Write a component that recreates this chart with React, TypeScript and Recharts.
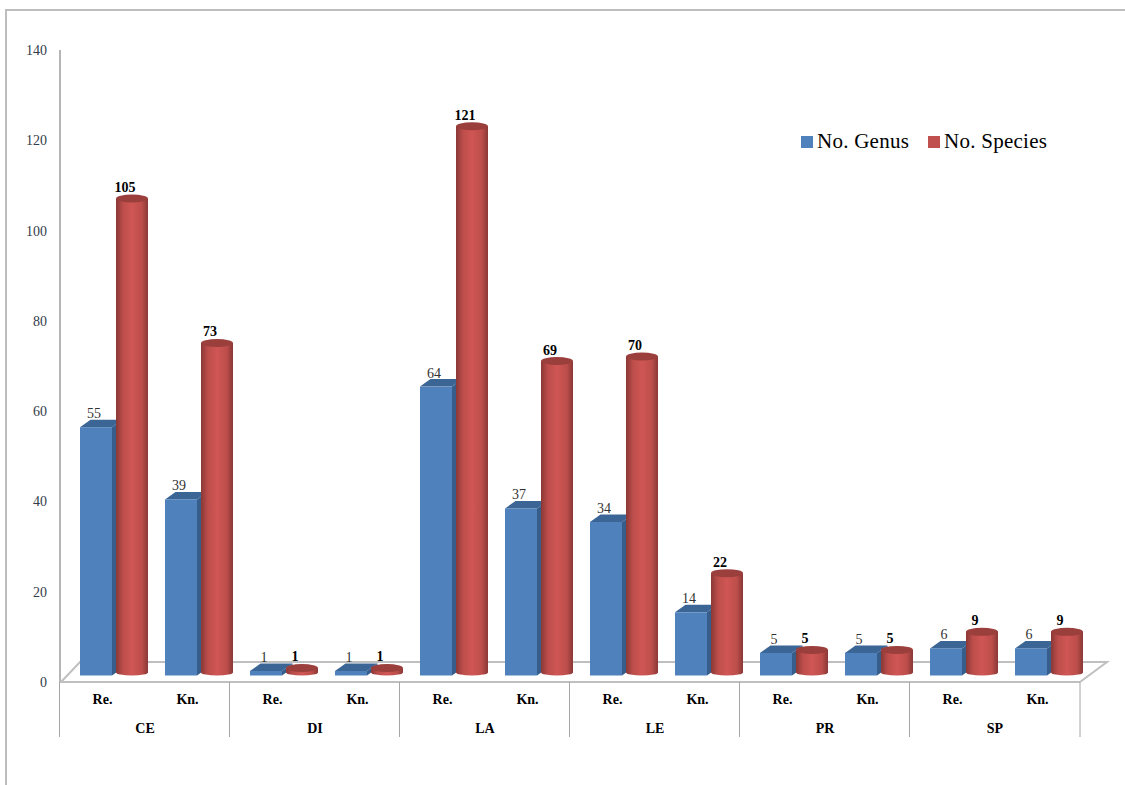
import React from "react";
import { Bar, BarChart, LabelList, Legend, XAxis, YAxis } from "recharts";

const groups = ["CE", "CE", "DI", "DI", "LA", "LA", "LE", "LE", "PR", "PR", "SP", "SP"];
const kinds = ["Re.", "Kn.", "Re.", "Kn.", "Re.", "Kn.", "Re.", "Kn.", "Re.", "Kn.", "Re.", "Kn."];
const genus = [55, 39, 1, 1, 64, 37, 34, 14, 5, 5, 6, 6];
const species = [105, 73, 1, 1, 121, 69, 70, 22, 5, 5, 9, 9];
const yTicks = [0, 20, 40, 60, 80, 100, 120, 140];

const data = groups.map((g, i) => ({ group: g, kind: kinds[i], genus: genus[i], species: species[i] }));

const SERIF = "'Liberation Serif', serif";
const BLUE = "#4f81bd";
const RED = "#c0504d";
const SHIFT_X = 11;
const BOX_Y = 6.5;
const CYL_Y = 9.5;
const DX = 10.5;
const DY = 7.5;
const RY = 4;

const Box = (p: any) => {
  const x = p.x + SHIFT_X;
  const y = p.y - BOX_Y;
  const w = p.width;
  const h = p.height;
  return (
    <g>
      <polygon
        points={`${x},${y} ${x + DX},${y - DY} ${x + w + DX},${y - DY} ${x + w},${y}`}
        fill="#3b6595"
      />
      <polygon
        points={`${x + w},${y} ${x + w + DX},${y - DY} ${x + w + DX},${y + h - DY} ${x + w},${y + h}`}
        fill="#375d8b"
      />
      <rect x={x} y={y} width={w} height={h} fill={BLUE} />
    </g>
  );
};

const Cylinder = (p: any) => {
  const x = p.x + SHIFT_X;
  const y = p.y - CYL_Y;
  const w = p.width;
  const h = p.height;
  const rx = w / 2;
  return (
    <g>
      <path
        d={`M${x},${y} L${x},${y + h} A${rx},${RY - 1} 0 0 0 ${x + w},${y + h} L${x + w},${y} Z`}
        fill="url(#cylGrad)"
      />
      <ellipse cx={x + rx} cy={y} rx={rx} ry={RY} fill="#9a3f3c" />
    </g>
  );
};

const GenusLabel = (p: any) => (
  <text
    x={p.x + SHIFT_X + p.width / 2 - 2}
    y={p.y - BOX_Y - DY - 6}
    textAnchor="middle"
    dominantBaseline="central"
    fontFamily={SERIF}
    fontSize={14}
    fill="#333333"
  >
    {p.value}
  </text>
);

const SpeciesLabel = (p: any) => (
  <text
    x={p.x + SHIFT_X + p.width / 2 - 7}
    y={p.y - CYL_Y - RY - 7}
    textAnchor="middle"
    dominantBaseline="central"
    fontFamily={SERIF}
    fontSize={14}
    fontWeight="bold"
    fill="#000000"
  >
    {p.value}
  </text>
);

const KindTick = (p: any) => (
  <text
    x={p.x}
    y={p.y + 1}
    textAnchor="middle"
    dominantBaseline="central"
    fontFamily={SERIF}
    fontSize={14}
    fontWeight="bold"
    fill="#000000"
  >
    {p.payload.value}
  </text>
);

const SLOT = 85;
const GroupTick = (p: any) => {
  const i = p.payload.index ?? p.index;
  const line = "#a6a6a6";
  return (
    <g>
      {i % 2 === 0 ? (
        <>
          <line x1={p.x - SLOT / 2 - 0.5} x2={p.x - SLOT / 2 - 0.5} y1={682} y2={737} stroke={line} strokeWidth={1} />
          <text
            x={p.x + SLOT / 2}
            y={728}
            textAnchor="middle"
            dominantBaseline="central"
            fontFamily={SERIF}
            fontSize={14}
            fontWeight="bold"
            fill="#000000"
          >
            {p.payload.value}
          </text>
        </>
      ) : null}
      {i === groups.length - 1 ? (
        <line x1={p.x + SLOT / 2} x2={p.x + SLOT / 2} y1={682} y2={737} stroke={line} strokeWidth={1} />
      ) : null}
    </g>
  );
};

const LegendBox = (props: any) => (
  <div style={{ display: "flex", fontFamily: SERIF, fontSize: 21, color: "#000" }}>
    {(props.payload || []).map((e: any, i: number) => (
      <div key={i} style={{ display: "flex", alignItems: "center", marginRight: 19, whiteSpace: "nowrap" }}>
        <span style={{ width: 12, height: 12, background: e.color, marginRight: 4, display: "inline-block" }} />
        <span style={{ letterSpacing: 0.25 }}>{e.value}</span>
      </div>
    ))}
  </div>
);

export default function App() {
  return (
    <div style={{ position: "absolute", left: 0, top: 0, width: 1125, height: 785, overflow: "hidden", background: "#fff" }}>
      <div
        style={{
          position: "absolute",
          left: 5,
          top: 9,
          right: 0,
          bottom: 0,
          borderLeft: "2px solid #bdbdbd",
          borderTop: "2px solid #bdbdbd",
        }}
      />
      <BarChart
        width={1125}
        height={785}
        data={data}
        margin={{ top: 50, right: 45, bottom: 47, left: 0 }}
        barSize={32}
        barGap={4}
        style={{ position: "absolute", left: 0, top: 0 }}
      >
        <defs>
          <linearGradient id="cylGrad" x1="0" x2="1" y1="0" y2="0">
            <stop offset="0" stopColor="#8a3836" />
            <stop offset="0.22" stopColor="#bd4e4b" />
            <stop offset="0.5" stopColor="#cf5654" />
            <stop offset="0.8" stopColor="#bd4e4b" />
            <stop offset="1" stopColor="#8a3836" />
          </linearGradient>
        </defs>
        <polyline points="61,682 80,662 1107,662 1080,682" fill="none" stroke="#bfbfbf" strokeWidth={2} />
        <YAxis
          width={60}
          domain={[0, 140]}
          ticks={yTicks}
          interval={0}
          tickLine={false}
          axisLine={{ stroke: "#b5b5b5", strokeWidth: 2 }}
          tick={{ fontFamily: SERIF, fontSize: 14, fill: "#333c4a" }}
          tickMargin={7}
        />
        <XAxis
          dataKey="kind"
          interval={0}
          height={28}
          tickLine={false}
          axisLine={{ stroke: "#bfbfbf", strokeWidth: 2 }}
          tick={<KindTick />}
          tickMargin={10}
        />
        <XAxis
          xAxisId="group"
          dataKey="group"
          interval={0}
          height={28}
          tickLine={false}
          axisLine={false}
          tick={<GroupTick />}
        />
        <Legend
          layout="horizontal"
          verticalAlign="middle"
          align="center"
          content={<LegendBox />}
          wrapperStyle={{ position: "absolute", left: 801, top: 129, width: 300, bottom: "auto", right: "auto" }}
        />
        <Bar dataKey="genus" name="No. Genus" fill={BLUE} isAnimationActive={false} shape={<Box />}>
          <LabelList dataKey="genus" content={<GenusLabel />} />
        </Bar>
        <Bar dataKey="species" name="No. Species" fill={RED} isAnimationActive={false} shape={<Cylinder />}>
          <LabelList dataKey="species" content={<SpeciesLabel />} />
        </Bar>
      </BarChart>
    </div>
  );
}
